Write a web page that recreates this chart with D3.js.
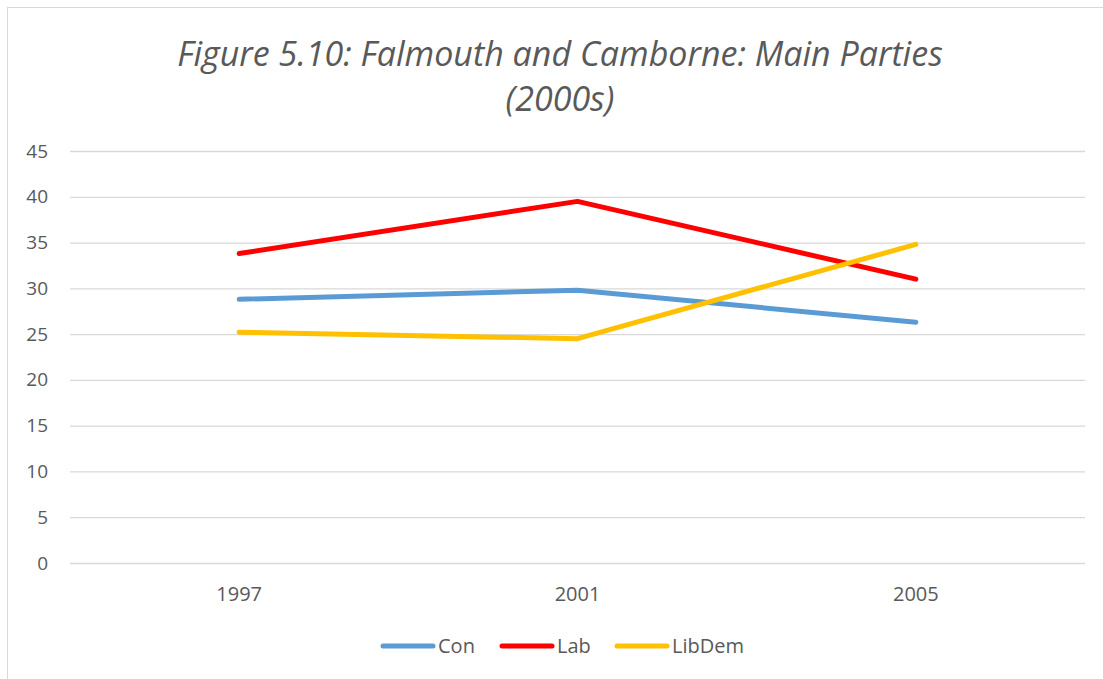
<!DOCTYPE html>
<html>
<head>
<meta charset="utf-8">
<script src="https://cdnjs.cloudflare.com/ajax/libs/d3/7.8.5/d3.min.js"></script>
<style>
  body { margin: 0; background: #fff; }
  svg { display: block; font-family: "Open Sans", "Liberation Sans", sans-serif; }
</style>
</head>
<body>
<svg width="1103" height="679"></svg>
<script>
// données
const years = ["1997", "2001", "2005"];
const con = [28.8, 29.8, 26.3];
const lab = [33.8, 39.5, 31.0];
const libDem = [25.2, 24.5, 34.8];
const yTicks = [0, 5, 10, 15, 20, 25, 30, 35, 40, 45];

const series = [
  { name: "Con", values: con, color: "#5B9BD5" },
  { name: "Lab", values: lab, color: "#FF0000" },
  { name: "LibDem", values: libDem, color: "#FFC000" }
];

const svg = d3.select("svg"),
      margin = { top: 151, right: 18, bottom: 116, left: 70 },
      width = svg.attr("width") - margin.left - margin.right,
      height = svg.attr("height") - margin.top - margin.bottom;

// cadre
svg.append("rect")
    .attr("x", 7.5).attr("y", 7.5)
    .attr("width", 1110).attr("height", 700)
    .attr("fill", "none")
    .attr("stroke", "#D9D9D9");

// titre
const title = svg.append("text")
    .attr("text-anchor", "middle")
    .attr("fill", "#595959")
    .style("font-style", "italic")
    .style("font-size", "34px");
title.append("tspan").attr("x", 560).attr("y", 66).text("Figure 5.10: Falmouth and Camborne: Main Parties");
title.append("tspan").attr("x", 560).attr("y", 111).text("(2000s)");

const chart = svg.append("g")
    .attr("transform", `translate(${margin.left},${margin.top})`);

const x = d3.scaleBand().domain(years).range([0, width]);
const y = d3.scaleLinear().domain([0, 45]).range([height, 0]);

// grille + axe y
const yAxis = chart.append("g")
    .call(d3.axisLeft(y).tickValues(yTicks).tickSize(-width).tickPadding(22));
yAxis.select(".domain").remove();
yAxis.selectAll("line").attr("stroke", "#D9D9D9").attr("stroke-width", 1.3);
yAxis.selectAll("text").attr("fill", "#595959").style("font-size", "19px")
    .style("font-family", "\"Open Sans\", sans-serif");

// axe x
const xAxis = chart.append("g")
    .attr("transform", `translate(0,${height})`)
    .call(d3.axisBottom(x).tickSize(0).tickPadding(24));
xAxis.select(".domain").remove();
xAxis.selectAll("text").attr("fill", "#595959").style("font-size", "20px")
    .style("font-family", "\"Open Sans\", sans-serif");

// lignes
const line = d3.line()
    .x((d, i) => x(years[i]) + x.bandwidth() / 2)
    .y(d => y(d));

chart.selectAll(".serie")
    .data(series)
    .join("path")
    .attr("class", "serie")
    .attr("d", d => line(d.values))
    .attr("fill", "none")
    .attr("stroke", d => d.color)
    .attr("stroke-width", 5)
    .attr("stroke-linecap", "round")
    .attr("stroke-linejoin", "round");

// légende
const legendX = [383, 502, 617];
const legend = svg.append("g");
series.forEach((s, i) => {
  const g = legend.append("g").attr("transform", `translate(${legendX[i]},646)`);
  g.append("line")
      .attr("x1", 0).attr("x2", 50)
      .attr("stroke", s.color)
      .attr("stroke-width", 5)
      .attr("stroke-linecap", "round");
  g.append("text")
      .attr("x", 55).attr("y", 7)
      .attr("fill", "#595959")
      .style("font-size", "20px")
      .text(s.name);
});
</script>
</body>
</html>
